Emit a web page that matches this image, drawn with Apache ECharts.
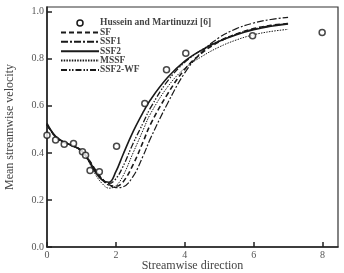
<!DOCTYPE html>
<html>
<head>
<meta charset="utf-8">
<script src="https://cdn.jsdelivr.net/npm/echarts@6/dist/echarts.min.js"></script>
<style>
  html, body { margin: 0; padding: 0; background: #fff; }
  #chart { width: 344px; height: 273px; }
</style>
</head>
<body>
<div id="chart"></div>
<script>
// measured points (Hussein and Martinuzzi)
var expX = [0, 0.25, 0.5, 0.77, 1.03, 1.12, 1.25, 1.52, 2.02, 2.84, 3.47, 4.03, 5.97, 7.99];
var expY = [0.475, 0.455, 0.437, 0.44, 0.405, 0.39, 0.325, 0.32, 0.428, 0.61, 0.753, 0.823, 0.898, 0.912];

// simulated profiles, all on the same x stations
var simX = [0, 0.25, 0.5, 0.75, 1.0, 1.2, 1.4, 1.6, 1.8, 2.0, 2.2, 2.5, 2.8, 3.0, 3.5, 4.0, 4.5, 5.0, 5.5, 6.0, 6.5, 7.0];
var sfY    = [0.52, 0.468, 0.445, 0.43, 0.41, 0.375, 0.33, 0.29, 0.265, 0.258, 0.275, 0.35, 0.45, 0.52, 0.65, 0.755, 0.825, 0.872, 0.905, 0.928, 0.942, 0.95];
var ssf1Y  = [0.52, 0.468, 0.445, 0.43, 0.41, 0.372, 0.325, 0.285, 0.262, 0.252, 0.255, 0.3, 0.39, 0.46, 0.61, 0.74, 0.83, 0.89, 0.928, 0.952, 0.967, 0.976];
var ssf2Y  = [0.525, 0.47, 0.446, 0.43, 0.41, 0.37, 0.32, 0.285, 0.275, 0.32, 0.39, 0.49, 0.575, 0.625, 0.72, 0.79, 0.838, 0.874, 0.902, 0.923, 0.938, 0.948];
var mssfY  = [0.52, 0.466, 0.443, 0.428, 0.405, 0.365, 0.31, 0.27, 0.25, 0.26, 0.3, 0.4, 0.5, 0.565, 0.68, 0.76, 0.81, 0.85, 0.88, 0.902, 0.916, 0.925];
var wfY    = [0.52, 0.468, 0.445, 0.43, 0.41, 0.372, 0.325, 0.29, 0.27, 0.29, 0.34, 0.44, 0.53, 0.59, 0.705, 0.785, 0.838, 0.876, 0.905, 0.926, 0.94, 0.95];

var xTicks = [0, 2, 4, 6, 8];
var yTicks = [0, 0.2, 0.4, 0.6, 0.8, 1.0];
var lineNames = ['SF', 'SSF1', 'SSF2', 'MSSF', 'SSF2-WF'];

function pairs(xs, ys) {
  return xs.map(function (x, i) { return [x, ys[i]]; });
}

function lineSeries(name, ys, type, width) {
  return {
    name: name,
    type: 'line',
    smooth: 0.4,
    symbol: 'none',
    data: pairs(simX, ys),
    lineStyle: { color: '#1a1a1a', width: width, type: type },
    itemStyle: { color: '#1a1a1a' },
    z: 2
  };
}

var chart = echarts.init(document.getElementById('chart'));
var serif = '"Liberation Serif", "DejaVu Serif", serif';

var legendData = [{
  name: 'Hussein and Martinuzzi [6]',
  icon: 'circle',
  itemStyle: { color: '#fff', borderColor: '#1a1a1a', borderWidth: 1.5, opacity: 1 }
}].concat(
  lineNames.map(function (n) { return { name: n, itemStyle: { opacity: 0 } }; })
);

var option = {
  animation: false,
  grid: {
    left: 47, right: 6, top: 7, bottom: 26,
    outerBoundsMode: 'none',
    containLabel: false,
    show: true, borderColor: '#333', borderWidth: 1.2
  },
  legend: {
    orient: 'vertical',
    left: 55, top: 13,
    itemWidth: 38, itemHeight: 6, itemGap: -0.6,
    textStyle: {
      fontFamily: serif, fontSize: 9.5, lineHeight: 8, fontWeight: 'bold',
      color: '#444', padding: [0, 0, 0, -4]
    },
    data: legendData
  },
  xAxis: {
    type: 'value',
    min: 0, max: 8.45, interval: 2,
    name: 'Streamwise direction',
    nameLocation: 'middle', nameGap: 13,
    nameMoveOverlap: false,
    nameTextStyle: { fontFamily: serif, fontSize: 12, color: '#444' },
    axisLine: { show: true, lineStyle: { color: '#222', width: 1.5 } },
    axisTick: { inside: true, length: 5, lineStyle: { color: '#222', width: 1.5 } },
    axisLabel: {
      margin: 3, fontFamily: serif, fontSize: 10, color: '#555',
      showMaxLabel: false,
      formatter: function (v) { return xTicks.indexOf(v) >= 0 ? String(v) : ''; }
    },
    splitLine: { show: false }
  },
  yAxis: {
    type: 'value',
    min: 0, max: 1.02, interval: 0.2,
    name: 'Mean streamwise velocity',
    nameLocation: 'middle', nameGap: 31,
    nameMoveOverlap: false,
    nameTextStyle: { fontFamily: serif, fontSize: 12, color: '#444' },
    axisLine: { show: true, lineStyle: { color: '#222', width: 1.5 } },
    axisTick: { inside: true, length: 5, lineStyle: { color: '#222', width: 1.5 } },
    axisLabel: {
      margin: 3, fontFamily: serif, fontSize: 10, color: '#555',
      showMaxLabel: false,
      formatter: function (v) {
        var r = Math.round(v * 10) / 10;
        return yTicks.indexOf(r) >= 0 && Math.abs(r - v) < 1e-6 ? r.toFixed(1) : '';
      }
    },
    splitLine: { show: false }
  },
  series: [
    {
      name: 'Hussein and Martinuzzi [6]',
      type: 'scatter',
      symbol: 'circle',
      symbolSize: 6,
      data: pairs(expX, expY),
      itemStyle: { color: '#fff', borderColor: '#1a1a1a', borderWidth: 1.5 },
      z: 5
    },
    lineSeries('SF', sfY, [5, 3], 1.6),
    lineSeries('SSF1', ssf1Y, [7, 2, 2, 2], 1.2),
    lineSeries('SSF2', ssf2Y, 'solid', 1.6),
    lineSeries('MSSF', mssfY, [1.5, 1.2], 1),
    lineSeries('SSF2-WF', wfY, [6, 2, 1.5, 1.5, 1.5, 2], 1.3)
  ]
};

chart.setOption(option);
</script>
</body>
</html>
